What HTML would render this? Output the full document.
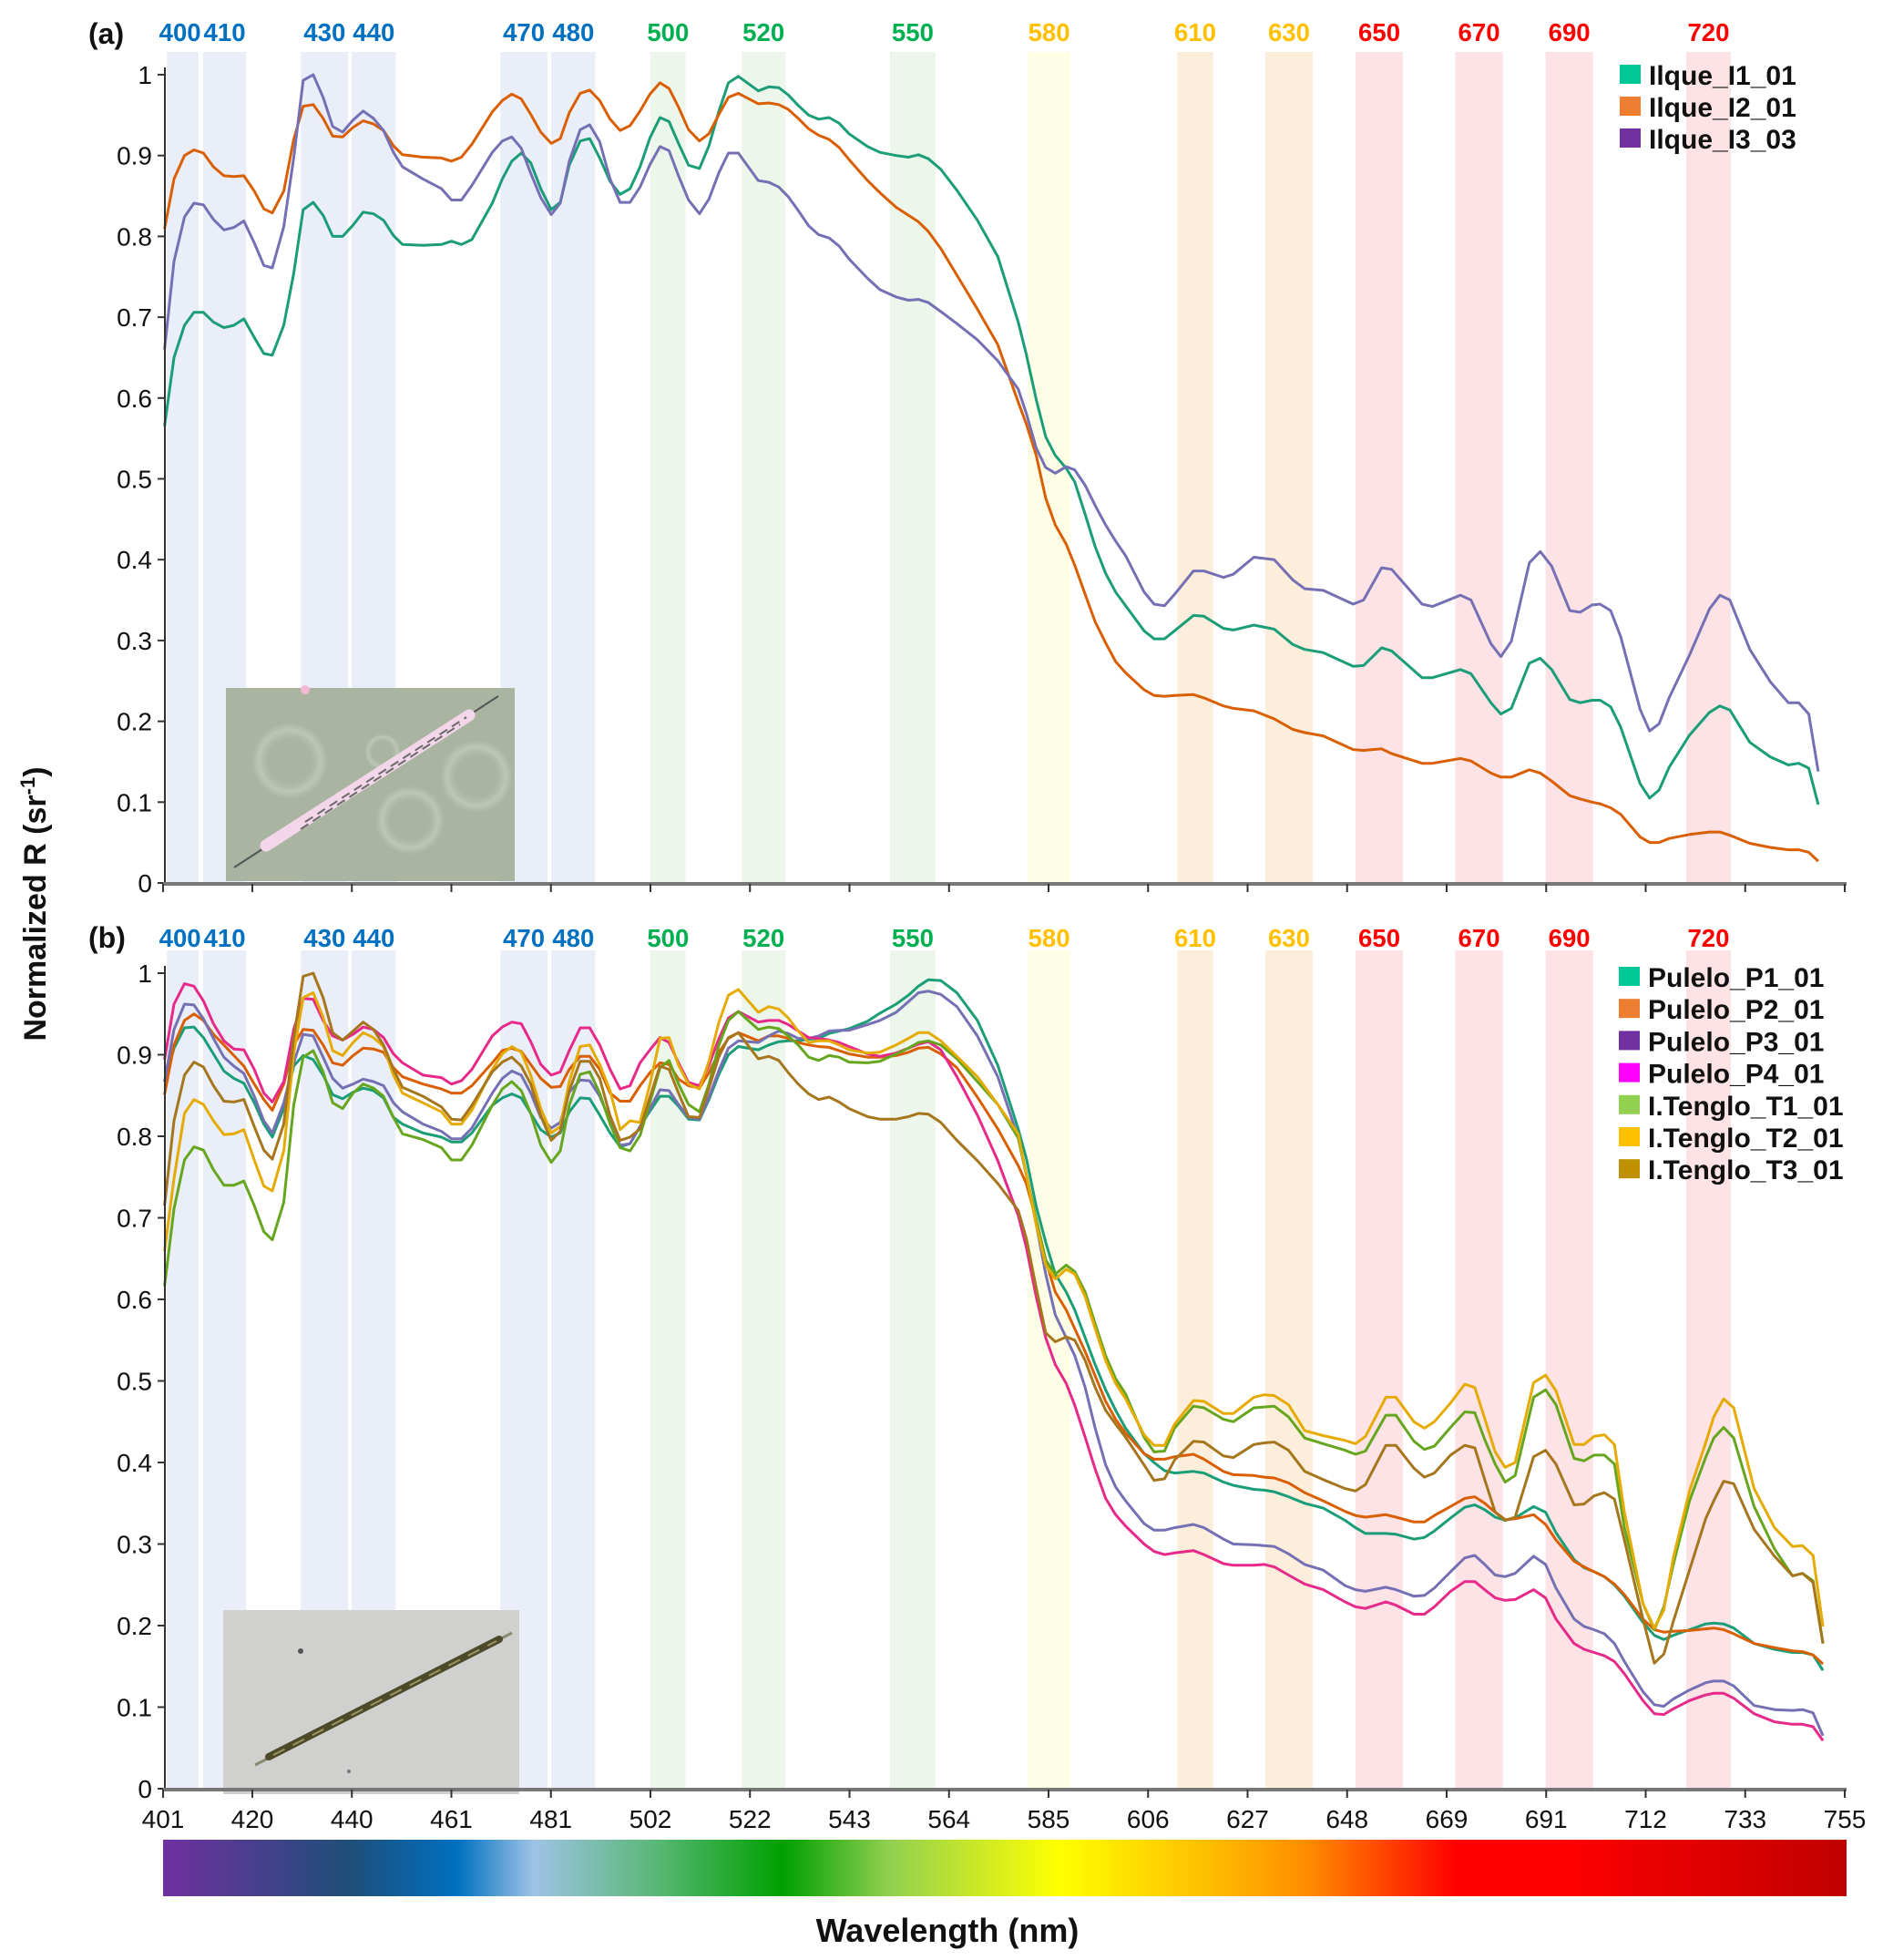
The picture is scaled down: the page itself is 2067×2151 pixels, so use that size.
<!DOCTYPE html>
<html><head><meta charset="utf-8">
<style>
html,body{margin:0;padding:0;background:#fff;}
svg{display:block;font-family:"Liberation Sans",Arial,sans-serif;}
</style></head>
<body>
<svg id="chart" width="2067" height="2151" viewBox="0 0 2067 2151" xmlns="http://www.w3.org/2000/svg">
<defs>
<linearGradient id="spec" x1="0" x2="1" y1="0" y2="0">
<stop offset="0" stop-color="#7030a0"/>
<stop offset="0.11" stop-color="#1f4e79"/>
<stop offset="0.175" stop-color="#0070c0"/>
<stop offset="0.22" stop-color="#9dc3e6"/>
<stop offset="0.29" stop-color="#5cb87a"/>
<stop offset="0.368" stop-color="#00a000"/>
<stop offset="0.432" stop-color="#92d050"/>
<stop offset="0.532" stop-color="#ffff00"/>
<stop offset="0.618" stop-color="#ffc000"/>
<stop offset="0.68" stop-color="#ff8c00"/>
<stop offset="0.768" stop-color="#ff0000"/>
<stop offset="0.83" stop-color="#ff0000"/>
<stop offset="1" stop-color="#c00000"/>
</linearGradient>
<radialGradient id="ring" cx="0.5" cy="0.5" r="0.5">
<stop offset="0.55" stop-color="#b7c2ae" stop-opacity="0"/>
<stop offset="0.8" stop-color="#c2ccb9" stop-opacity="0.8"/>
<stop offset="1" stop-color="#c2ccb9" stop-opacity="0"/>
</radialGradient>
</defs>
<g id="bandsA"></g><g id="bandsB"></g>
<g id="insetA">
<rect x="248" y="755" width="317" height="212" fill="#a9b5a1"/>
<circle cx="318" cy="835" r="42" fill="url(#ring)"/>
<circle cx="523" cy="852" r="40" fill="url(#ring)"/>
<circle cx="450" cy="900" r="38" fill="url(#ring)"/>
<circle cx="420" cy="825" r="20" fill="url(#ring)"/>
<line x1="257" y1="952" x2="547" y2="764" stroke="#555" stroke-width="2"/>
<line x1="292" y1="928" x2="515" y2="785" stroke="#f4d6ea" stroke-width="13" stroke-linecap="round"/>
<line x1="335" y1="902" x2="512" y2="787" stroke="#6a6a6a" stroke-width="2" stroke-dasharray="10 6"/>
<line x1="330" y1="910" x2="505" y2="795" stroke="#6a6a6a" stroke-width="2" stroke-dasharray="10 6"/>
<circle cx="335" cy="757" r="5" fill="#f5b7d5"/>
</g>
<g id="insetB">
<rect x="245" y="1767" width="325" height="202" fill="#d0d0cf"/>
<line x1="280" y1="1937" x2="562" y2="1792" stroke="#8a8a70" stroke-width="3"/>
<line x1="295" y1="1928" x2="548" y2="1799" stroke="#4d4a2a" stroke-width="8" stroke-linecap="round"/>
<line x1="300" y1="1926" x2="545" y2="1801" stroke="#9c9460" stroke-width="2" stroke-dasharray="14 10"/>
<circle cx="330" cy="1812" r="3" fill="#555"/>
<circle cx="383" cy="1944" r="2" fill="#777"/>
</g>
<g id="linesA"></g><g id="linesB"></g><g id="axes"></g>
</svg>
<script>
// ---------------- data ----------------
const wavelengthsA = [401.3,403.3,405.5,407.5,409.5,411.6,413.8,415.9,418.0,420.2,422.2,424.0,426.4,428.5,430.5,432.6,434.7,436.7,438.8,441.0,443.1,445.3,447.4,449.5,451.4,455.7,459.6,461.7,463.8,466.0,470.3,472.4,474.4,476.4,478.4,480.5,482.7,484.6,486.5,488.8,490.8,492.9,495.1,497.2,499.3,
501.4,503.5,505.6,507.5,509.5,511.6,513.9,515.9,518.0,520.0,522.1,526.3,528.5,530.6,532.6,534.7,536.9,539.0,541.2,543.3,545.4,549.3,551.9,555.3,557.9,560.0,562.1,564.7,568.1,572.4,576.7,581.0,582.7,584.8,586.8,588.8,591.1,592.9,595.1,597.2,599.4,601.5,603.6,607.5,609.6,611.8,613.9,617.9,620.1,624.2,626.3,630.6,
634.9,638.8,641.3,645.2,651.5,653.7,657.5,659.6,666.0,668.2,674.1,676.3,680.5,682.6,684.8,688.6,690.9,693.3,697.1,699.3,701.8,703.5,705.7,707.8,711.9,713.9,715.9,718.0,722.3,726.5,728.7,730.8,735.0,739.3,743.1,745.3,747.4,749.4];
const ilqueI1 = [.565,.650,.690,.706,.706,.694,.687,.690,.698,.675,.655,.653,.690,.754,.833,.842,.826,.800,.800,.814,.830,.828,.820,.801,.790,.789,.790,.794,.790,.796,.841,.871,.893,.903,.891,.859,.833,.842,.888,.918,.921,.897,.868,.852,.859,
.886,.922,.947,.942,.915,.888,.884,.912,.955,.990,.998,.980,.985,.984,.975,.962,.950,.945,.947,.940,.927,.911,.904,.900,.898,.901,.896,.883,.857,.820,.775,.694,.654,.598,.552,.529,.513,.496,.456,.416,.383,.360,.343,.312,.302,.302,.312,.331,.330,.315,.313,.319,
.314,.295,.289,.285,.268,.269,.291,.287,.254,.254,.264,.259,.223,.209,.216,.272,.278,.264,.227,.223,.226,.226,.218,.193,.123,.105,.115,.143,.183,.211,.219,.214,.174,.156,.146,.148,.142,.097];
const ilqueI2 = [.809,.871,.900,.907,.903,.886,.875,.874,.875,.856,.834,.829,.856,.920,.961,.963,.946,.924,.923,.935,.943,.939,.931,.912,.901,.898,.897,.893,.898,.914,.954,.968,.976,.970,.951,.929,.915,.921,.953,.977,.981,.968,.945,.931,.937,
.955,.976,.990,.983,.960,.932,.918,.927,.951,.972,.977,.964,.965,.963,.957,.946,.933,.925,.920,.910,.895,.869,.854,.836,.826,.818,.806,.785,.752,.710,.666,.595,.568,.529,.476,.443,.419,.393,.357,.323,.297,.274,.260,.239,.232,.231,.232,.233,.229,.219,.216,.213,
.203,.190,.186,.182,.165,.164,.166,.160,.148,.148,.154,.151,.136,.131,.131,.140,.136,.126,.108,.104,.100,.098,.093,.085,.057,.050,.050,.055,.060,.063,.063,.059,.049,.044,.041,.041,.038,.027];
const ilqueI3 = [.660,.769,.824,.841,.839,.821,.808,.811,.819,.792,.764,.761,.812,.897,.993,1.0,.972,.936,.929,.944,.955,.946,.931,.904,.886,.871,.859,.845,.845,.863,.904,.918,.923,.909,.878,.848,.827,.841,.893,.932,.938,.917,.871,.842,.842,
.861,.889,.911,.906,.875,.845,.828,.846,.879,.903,.903,.869,.867,.861,.849,.832,.813,.802,.798,.788,.772,.748,.734,.725,.721,.722,.718,.707,.692,.672,.646,.611,.581,.538,.514,.507,.515,.511,.492,.467,.443,.423,.405,.360,.345,.343,.357,.386,.386,.378,.382,.403,
.400,.375,.364,.362,.345,.350,.390,.388,.345,.342,.356,.350,.296,.280,.299,.396,.410,.392,.337,.335,.344,.345,.337,.305,.215,.188,.197,.229,.282,.339,.356,.350,.289,.249,.223,.223,.209,.138];

const wavelengthsB = [401.3,403.3,405.5,407.5,409.5,411.6,413.8,415.9,418.0,420.2,422.2,424.0,426.4,428.5,430.5,432.6,434.7,436.7,438.8,441.0,443.1,445.3,447.4,449.5,451.4,455.7,459.6,461.7,463.8,466.0,470.3,472.4,474.4,476.4,478.4,480.5,482.7,484.6,486.5,488.8,490.8,492.9,495.1,497.2,499.3,
501.4,503.5,505.6,507.5,509.5,511.6,513.9,515.9,518.0,520.0,522.1,526.3,528.5,530.6,532.6,534.7,536.9,539.0,541.2,543.3,545.4,549.3,551.9,555.3,557.9,560.0,562.1,564.7,568.1,572.4,576.7,581.0,582.7,584.8,586.8,588.8,591.1,592.9,595.1,597.2,599.4,601.5,603.6,607.5,609.6,611.8,613.9,617.9,620.1,624.2,626.3,630.6,
632.8,634.9,637.9,641.3,645.2,649.8,652.0,654.1,658.4,660.5,664.3,666.5,668.6,672.0,675.0,677.1,679.2,681.4,683.5,685.6,689.5,692.0,694.2,698.0,700.1,702.2,704.4,706.5,708.6,712.5,714.9,716.9,718.9,722.3,725.7,727.4,729.5,731.6,735.9,740.2,744.0,746.1,748.3,750.4];
const puleloP1 = [.867,.908,.933,.934,.921,.901,.880,.871,.865,.841,.815,.799,.834,.886,.899,.894,.875,.851,.846,.854,.859,.856,.847,.823,.815,.804,.799,.793,.793,.804,.838,.847,.852,.847,.828,.808,.799,.804,.830,.847,.846,.826,.804,.787,.791,
.812,.831,.849,.849,.837,.821,.820,.845,.876,.900,.910,.906,.912,.916,.917,.917,.919,.920,.926,.929,.932,.941,.951,.962,.973,.984,.992,.991,.976,.942,.887,.809,.773,.714,.670,.631,.609,.587,.553,.520,.489,.464,.442,.411,.400,.390,.387,.389,.387,.376,.372,.367,
.366,.364,.358,.350,.344,.329,.320,.313,.313,.312,.306,.308,.316,.332,.345,.348,.342,.333,.329,.332,.346,.339,.314,.281,.271,.266,.260,.250,.236,.204,.188,.183,.188,.195,.202,.203,.202,.197,.178,.171,.167,.167,.164,.145];
const puleloP2 = [.851,.912,.942,.950,.942,.925,.912,.899,.886,.864,.845,.832,.864,.912,.931,.930,.912,.890,.887,.899,.908,.907,.903,.884,.873,.864,.858,.853,.853,.862,.890,.905,.908,.904,.888,.871,.860,.861,.882,.898,.898,.882,.853,.843,.843,
.862,.878,.890,.888,.870,.862,.859,.878,.903,.920,.927,.917,.923,.923,.920,.915,.912,.910,.909,.905,.901,.897,.897,.899,.903,.908,.909,.901,.884,.848,.809,.764,.742,.698,.648,.609,.587,.564,.536,.506,.475,.453,.436,.411,.404,.404,.407,.410,.404,.389,.385,.384,
.382,.381,.375,.363,.353,.340,.335,.333,.336,.333,.327,.327,.335,.346,.356,.358,.350,.339,.330,.331,.336,.324,.305,.279,.272,.266,.260,.251,.238,.208,.195,.192,.193,.194,.196,.197,.195,.190,.178,.173,.169,.168,.164,.153];
const puleloP3 = [.867,.931,.962,.961,.944,.920,.897,.886,.877,.849,.819,.804,.841,.890,.925,.923,.897,.871,.859,.864,.870,.867,.862,.841,.830,.815,.806,.797,.797,.810,.853,.871,.880,.875,.853,.823,.810,.817,.854,.869,.868,.849,.819,.789,.791,
.812,.834,.857,.856,.839,.823,.821,.848,.881,.908,.917,.915,.923,.929,.926,.920,.920,.923,.929,.930,.930,.937,.942,.952,.965,.976,.978,.974,.959,.923,.873,.798,.753,.692,.631,.581,.553,.531,.492,.442,.397,.370,.353,.325,.317,.317,.320,.324,.320,.306,.300,.299,
.298,.297,.288,.275,.268,.249,.244,.242,.247,.244,.236,.237,.246,.266,.283,.286,.275,.262,.260,.264,.285,.275,.246,.208,.199,.195,.190,.178,.156,.119,.103,.101,.110,.121,.130,.132,.132,.126,.102,.097,.096,.097,.093,.065];
const puleloP4 = [.894,.962,.987,.984,.966,.938,.917,.907,.906,.882,.853,.842,.867,.931,.969,.968,.942,.923,.918,.925,.934,.931,.921,.901,.890,.875,.872,.864,.868,.882,.923,.934,.940,.938,.916,.888,.875,.879,.905,.933,.933,.912,.882,.858,.862,
.890,.906,.921,.915,.890,.866,.862,.887,.920,.945,.953,.940,.942,.942,.937,.929,.921,.920,.918,.915,.910,.901,.898,.902,.908,.913,.916,.906,.873,.826,.770,.703,.664,.603,.553,.520,.497,.470,.431,.392,.356,.336,.322,.300,.291,.287,.289,.292,.287,.276,.274,.274,
.275,.272,.262,.251,.244,.229,.223,.221,.229,.225,.214,.214,.223,.242,.254,.254,.244,.234,.231,.232,.244,.234,.208,.178,.171,.167,.163,.156,.141,.108,.092,.091,.098,.108,.115,.117,.117,.111,.092,.082,.079,.079,.076,.059];
const tengloT1 = [.616,.711,.771,.787,.783,.759,.740,.740,.745,.715,.683,.673,.719,.838,.897,.905,.879,.841,.834,.853,.864,.859,.849,.823,.803,.796,.786,.771,.771,.789,.838,.858,.867,.856,.828,.789,.768,.782,.838,.876,.879,.853,.815,.786,.782,
.801,.842,.884,.893,.864,.839,.830,.864,.912,.942,.953,.931,.934,.932,.923,.912,.897,.893,.899,.897,.891,.890,.892,.901,.908,.915,.917,.912,.895,.867,.839,.798,.753,.698,.648,.631,.642,.634,.609,.570,.531,.503,.484,.431,.413,.414,.442,.469,.467,.453,.450,.467,
.468,.469,.456,.430,.423,.415,.410,.414,.458,.458,.426,.416,.420,.443,.462,.461,.428,.398,.376,.384,.480,.489,.471,.405,.402,.409,.409,.398,.320,.227,.195,.223,.275,.353,.406,.430,.443,.430,.346,.294,.261,.264,.255,.178];
const tengloT2 = [.659,.748,.828,.845,.839,.819,.802,.803,.808,.771,.739,.733,.782,.901,.970,.976,.946,.905,.899,.915,.927,.921,.910,.875,.853,.841,.830,.815,.815,.832,.882,.901,.910,.903,.875,.834,.804,.812,.867,.910,.912,.888,.856,.808,.819,
.817,.864,.920,.921,.887,.864,.858,.892,.940,.973,.980,.952,.959,.956,.945,.929,.915,.917,.917,.912,.906,.902,.903,.912,.920,.927,.927,.917,.898,.873,.839,.803,.753,.692,.642,.625,.637,.631,.603,.564,.525,.497,.478,.434,.421,.421,.447,.476,.475,.460,.460,.480,
.483,.482,.471,.439,.433,.427,.423,.432,.480,.480,.450,.442,.450,.473,.496,.492,.454,.413,.394,.400,.498,.507,.488,.422,.422,.432,.434,.422,.339,.227,.197,.219,.283,.365,.424,.456,.478,.467,.368,.320,.297,.298,.286,.199];
const tengloT3 = [.715,.819,.875,.891,.885,.862,.843,.842,.845,.812,.783,.772,.815,.920,.996,1.0,.970,.927,.918,.929,.940,.931,.912,.882,.860,.849,.836,.821,.820,.838,.879,.891,.897,.886,.864,.825,.795,.806,.856,.892,.892,.871,.825,.795,.799,
.809,.848,.886,.882,.853,.824,.823,.859,.898,.921,.927,.895,.898,.893,.878,.864,.852,.845,.848,.842,.834,.824,.821,.821,.824,.828,.827,.817,.795,.770,.742,.709,.675,.614,.559,.548,.554,.550,.525,.492,.464,.447,.431,.397,.378,.380,.403,.426,.425,.408,.406,.422,
.424,.425,.415,.389,.379,.368,.365,.373,.421,.421,.393,.382,.387,.409,.421,.418,.379,.339,.329,.333,.407,.415,.398,.348,.349,.359,.363,.355,.305,.208,.154,.165,.205,.268,.331,.353,.377,.374,.318,.285,.261,.264,.253,.178];

const bandLabels = ["400","410","430","440","470","480","500","520","550","580","610","630","650","670","690","720"];
const bandStart  = [401.8,409.4,430,440.7,472,482.7,503.6,522.8,554,583,614.5,633,652,673,692,721.6];
const bandEnd    = [408.5,418.5,440,450,481.9,492,511,532,563.6,592,622,643,662,683,702,731];
const bandGroup  = ["b","b","b","b","b","b","g","g","g","y","o","o","r","r","r","r"];
const xTickLabels = ["401","420","440","461","481","502","522","543","564","585","606","627","648","669","691","712","733","755"];
const yTickValues = [0,0.1,0.2,0.3,0.4,0.5,0.6,0.7,0.8,0.9,1];

// ---------------- scales ----------------
const NS = "http://www.w3.org/2000/svg";
function xs(w){ return 179 + (w - 401) * 5.215; }
function yA(v){ return 969 - v * 887; }
function yB(v){ return 1963 - v * 895; }
const groupFill = {b:"#e9eef8", g:"#edf6ea", y:"#fefee6", o:"#fdeedb", r:"#fde3e5"};
const groupText = {b:"#0070c0", g:"#00b050", y:"#ffc000", o:"#ffc000", r:"#ff0000"};
function mk(tag, attrs, parent){
  const e = document.createElementNS(NS, tag);
  for (const k in attrs) e.setAttribute(k, attrs[k]);
  parent.appendChild(e); return e;
}

// ---------------- bands ----------------
function drawBands(gid, top, bottom, labelY, panel){
  const g = document.getElementById(gid);
  for (let i = 0; i < bandLabels.length; i++){
    const r = mk("rect", {x: xs(bandStart[i]), y: top, width: xs(bandEnd[i]) - xs(bandStart[i]), height: bottom - top, fill: groupFill[bandGroup[i]]}, g);
    
    
    const cx = (xs(bandStart[i]) + xs(bandEnd[i])) / 2 + (i === 0 ? -3 : 0);
    const t = mk("text", {x: cx - 23, y: labelY, "font-size": "28", "font-weight": "bold", fill: groupText[bandGroup[i]], textLength: "46", lengthAdjust: "spacingAndGlyphs"}, g);
    t.textContent = bandLabels[i];
    
    
  }
}
drawBands("bandsA", 57, 969, 45, "a");
drawBands("bandsB", 1043, 1963, 1039, "b");

// ---------------- lines ----------------
function drawLine(gid, xsArr, vals, yf, color, name){
  const g = document.getElementById(gid);
  let d = "";
  for (let i = 0; i < vals.length; i++) d += (i ? "L" : "M") + xs(xsArr[i]).toFixed(1) + "," + yf(vals[i]).toFixed(1);
  const p = mk("path", {d: d, fill: "none", stroke: color, "stroke-width": "3", "stroke-linejoin": "round"}, g);
  
  
}
drawLine("linesA", wavelengthsA, ilqueI1, yA, "#1b9e77", "line-ilque-i1-01");
drawLine("linesA", wavelengthsA, ilqueI2, yA, "#d95f02", "line-ilque-i2-01");
drawLine("linesA", wavelengthsA, ilqueI3, yA, "#7570b3", "line-ilque-i3-03");
drawLine("linesB", wavelengthsB, puleloP1, yB, "#1b9e77", "line-pulelo-p1-01");
drawLine("linesB", wavelengthsB, puleloP2, yB, "#d95f02", "line-pulelo-p2-01");
drawLine("linesB", wavelengthsB, puleloP3, yB, "#7570b3", "line-pulelo-p3-01");
drawLine("linesB", wavelengthsB, puleloP4, yB, "#e7298a", "line-pulelo-p4-01");
drawLine("linesB", wavelengthsB, tengloT1, yB, "#66a61e", "line-itenglo-t1-01");
drawLine("linesB", wavelengthsB, tengloT2, yB, "#e6ab02", "line-itenglo-t2-01");
drawLine("linesB", wavelengthsB, tengloT3, yB, "#a6761d", "line-itenglo-t3-01");

// ---------------- axes ----------------
const ax = document.getElementById("axes");
function tickX(i){ return i === 0 ? 179 : 277 + (i - 1) * 109.25; }
function drawAxes(yf, baseY, panel, showLabels){
  const yl = mk("line", {x1: 181, y1: yf(1) - 8, x2: 181, y2: baseY, stroke: "#333", "stroke-width": "2"}, ax);
  
  
  for (const v of yTickValues){
    mk("line", {x1: 173, y1: yf(v), x2: 181, y2: yf(v), stroke: "#333", "stroke-width": "2"}, ax);
    const t = mk("text", {x: 167, y: yf(v) + 10, "text-anchor": "end", "font-size": "28", fill: "#111"}, ax);
    t.textContent = String(v);
    
    
  }
  const xl = mk("line", {x1: 179, y1: baseY, x2: 2027, y2: baseY, stroke: "#777", "stroke-width": "4"}, ax);
  
  
  for (let i = 0; i < xTickLabels.length; i++){
    mk("line", {x1: tickX(i), y1: baseY, x2: tickX(i), y2: baseY + 9, stroke: "#333", "stroke-width": "2"}, ax);
    if (showLabels){
      const t = mk("text", {x: tickX(i), y: 2006, "text-anchor": "middle", "font-size": "28", fill: "#111"}, ax);
      t.textContent = xTickLabels[i];
      
      
    }
  }
}
drawAxes(yA, 970, "a", false);
drawAxes(yB, 1964, "b", true);

// ---------------- legends ----------------
function legend(names, colors, x, y0, step, panel){
  for (let i = 0; i < names.length; i++){
    const cy = y0 + i * step;
    const r = mk("rect", {x: x, y: cy - 11, width: 23, height: 21, fill: colors[i]}, ax);
    
    
    const t = mk("text", {x: x + 32, y: cy + 11, "font-size": "30", "font-weight": "bold", fill: "#111"}, ax);
    t.textContent = names[i];
    
    
  }
}
legend(["Ilque_I1_01","Ilque_I2_01","Ilque_I3_03"], ["#00c896","#ed7d31","#7030a0"], 1778, 82, 35, "a");
legend(["Pulelo_P1_01","Pulelo_P2_01","Pulelo_P3_01","Pulelo_P4_01","I.Tenglo_T1_01","I.Tenglo_T2_01","I.Tenglo_T3_01"],
       ["#00c896","#ed7d31","#7030a0","#ff00ff","#92d050","#ffc000","#bf9000"], 1777, 1072, 35.2, "b");

// panel letters
let t = mk("text", {x: 97, y: 48, "font-size": "32", "font-weight": "bold", fill: "#111"}, ax);
t.textContent = "(a)";


t = mk("text", {x: 97, y: 1040, "font-size": "32", "font-weight": "bold", fill: "#111"}, ax);
t.textContent = "(b)";



// colour bar
const cb = mk("rect", {x: 179, y: 2019, width: 1848, height: 62, fill: "url(#spec)"}, ax);



// axis titles
t = mk("text", {x: 1040, y: 2131, "text-anchor": "middle", "font-size": "36", "font-weight": "bold", fill: "#111"}, ax);
t.textContent = "Wavelength (nm)";


t = mk("text", {x: 0, y: 0, "text-anchor": "middle", "font-size": "34", "font-weight": "bold", fill: "#111", transform: "translate(50,992) rotate(-90)"}, ax);
t.innerHTML = 'Normalized R (sr<tspan baseline-shift="super" font-size="22">-1</tspan>)';


</script>
</body></html>
